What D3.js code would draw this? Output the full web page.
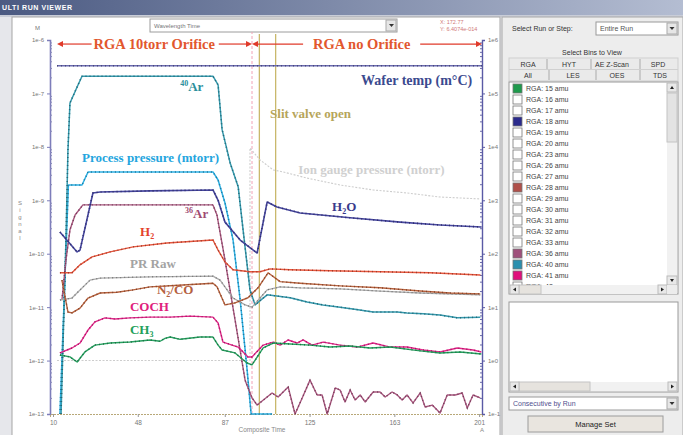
<!DOCTYPE html>
<html>
<head>
<meta charset="utf-8">
<script src="https://cdn.jsdelivr.net/npm/d3@7"></script>
<style>
body { margin:0; background:#e6e7eb; overflow:hidden; }
svg { display:block; }
</style>
</head>
<body>
<script>
// signals: [composite time, value]
var ar40 = [[13.6,1e-13],[15.8,1.8e-10],[16.7,8.7e-9],[17.6,6.6e-8],[21.2,1.44e-7],[23.0,2.1e-7],[81.7,2.1e-7],[84.0,1.44e-7],[85.8,2.1e-8],[89.4,5.0e-9],[93.0,1.8e-9],[95.2,2.8e-10],[98.3,2.1e-11],[100.6,1.1e-11],[103.5,1.4e-11],[106.0,1.7e-11],[116.3,1.5e-11],[123.9,1.25e-11],[131,1.1e-11],[138.7,1.0e-11],[146,9.0e-12],[153.5,8.1e-12],[164.3,8.1e-12],[168.7,7.8e-12],[176,7.5e-12],[183.5,7.1e-12],[191.2,6.3e-12],[201.5,6.5e-12]];
var ar36 = [[14.0,1.36e-11],[15.8,7.6e-11],[17.6,2.8e-10],[19.9,5.3e-10],[23.4,8.2e-10],[81.7,8.2e-10],[83.5,5.3e-10],[87.1,7.6e-11],[91.6,5.8e-12],[96.1,4.3e-13],[99.2,2.0e-13],[101.5,1.47e-13],[108.2,2.47e-13],[110.9,2.08e-13],[115.4,3.2e-13],[118.5,8e-14],[121.7,2.0e-13],[125.2,4.3e-13],[128.4,2.27e-13],[130.6,2.27e-13],[132.9,8e-14],[136.5,3.07e-13],[138.7,2.81e-13],[140.9,1.68e-13],[143.2,2.81e-13],[145.4,1.83e-13],[147.7,2.27e-13],[149.9,1.68e-13],[153.5,2.58e-13],[156.6,2.58e-13],[158.9,2.08e-13],[162.0,2.58e-13],[164.3,2.27e-13],[166.5,1.83e-13],[168.7,2.27e-13],[171.4,1.61e-13],[174.6,2.47e-13],[176.8,1.35e-13],[180.0,1.47e-13],[183.5,1.04e-13],[186.7,2.27e-13],[190.3,2.27e-13],[193.4,2.47e-13],[195.7,1.29e-13],[198.3,2.27e-13],[201.5,2.0e-13]];
var h2 = [[13.1,4.4e-11],[18.5,4.4e-11],[22.1,6.2e-11],[27.5,8.7e-11],[35.6,1.08e-10],[45.9,1.34e-10],[61.1,1.59e-10],[81.7,1.81e-10],[84.0,1.17e-10],[87.1,7.0e-11],[90.7,5.0e-11],[98.3,4.6e-11],[102.8,4.6e-11],[107.3,5.2e-11],[116.3,5.0e-11],[134.2,4.8e-11],[156.6,4.6e-11],[179,4.4e-11],[201.5,4.0e-11]];
var n2co = [[14.0,3.2e-11],[16.7,8.1e-12],[18.5,7.8e-12],[22.1,9.6e-12],[25.7,1.48e-11],[31.1,1.84e-11],[38.7,1.9e-11],[45.9,2.1e-11],[53.5,2.4e-11],[68.3,2.6e-11],[81.7,2.8e-11],[83.5,2.4e-11],[87.1,1.1e-11],[91.6,1.2e-11],[97.4,1.5e-11],[101.9,2.3e-11],[106.4,4.4e-11],[111.8,3.0e-11],[120.8,2.8e-11],[138.7,2.5e-11],[156.6,2.3e-11],[174.6,2.0e-11],[188,1.84e-11],[201.5,1.77e-11]];
var prRaw = [[13.1,1.36e-11],[18.5,1.48e-11],[22.1,2.1e-11],[26.6,3.2e-11],[31.1,3.5e-11],[53.5,3.7e-11],[81.7,3.8e-11],[84.9,3.2e-11],[90.7,1.48e-11],[96.1,1.1e-11],[99.2,1.0e-11],[102.8,1.48e-11],[106.0,2.1e-11],[111.8,2.4e-11],[120.8,2.3e-11],[138.7,2.2e-11],[156.6,2.0e-11],[174.6,1.84e-11],[201.5,1.7e-11]];
var h2o = [[13.1,2.55e-10],[20.8,1.08e-10],[22.1,1.17e-10],[27.9,1.37e-9],[31.1,1.43e-9],[53.5,1.5e-9],[81.7,1.56e-9],[84.0,1.0e-9],[87.1,3.9e-10],[93.9,1.8e-10],[101.5,1.03e-10],[106.0,9.3e-10],[110.4,7.5e-10],[120.8,5.8e-10],[143.2,4.7e-10],[165.6,3.9e-10],[183.5,3.45e-10],[202,3.16e-10]];
var coch = [[13.1,1.39e-12],[18.5,1.72e-12],[22.1,2.13e-12],[25.7,3.73e-12],[28.8,5.3e-12],[33.3,6.3e-12],[37.8,6.0e-12],[44.5,6.3e-12],[53.5,6.5e-12],[62.5,6.5e-12],[71.4,6.8e-12],[81.7,6.5e-12],[84.0,5.05e-12],[86.2,2.22e-12],[93.0,1.79e-12],[97.4,1.17e-12],[99.2,1.17e-12],[104.2,1.95e-12],[108.7,2.22e-12],[111.8,1.95e-12],[115.4,2.43e-12],[119.4,2.13e-12],[122.1,2.43e-12],[126.1,1.95e-12],[131.1,2.22e-12],[138.7,1.95e-12],[146.3,1.79e-12],[153.5,2.13e-12],[161.1,1.79e-12],[168.7,1.79e-12],[175.9,1.58e-12],[183.5,1.45e-12],[191.2,1.72e-12],[198.3,1.58e-12],[202,1.45e-12]];
var ch3 = [[13.1,1.27e-12],[17.6,1.17e-12],[20.8,9.4e-13],[24.3,1.45e-12],[28.8,1.95e-12],[35.6,2.13e-12],[44.5,2.22e-12],[53.5,2.43e-12],[58.0,2.3e-12],[60.2,2.6e-12],[62.5,2.76e-12],[67.0,2.5e-12],[75.9,2.76e-12],[81.7,2.76e-12],[84.0,1.95e-12],[85.8,1.58e-12],[91.6,1.39e-12],[97.0,9.0e-13],[99.2,8.3e-13],[104.2,1.72e-12],[108.7,2.13e-12],[116.3,2.04e-12],[125.2,1.95e-12],[134.2,1.79e-12],[143.2,1.87e-12],[152.1,1.72e-12],[161.1,1.79e-12],[174.6,1.52e-12],[183.5,1.39e-12],[192.5,1.45e-12],[202,1.33e-12]];
// right axis signals
var procPressure = [[13.1,0.1],[16.9,1.93e3],[23.0,1.93e3],[25.7,3.39e3],[81.7,3.39e3],[84.0,2.4e3],[87.1,890],[90.7,181],[93.9,13.6],[97.0,0.67],[98.8,0.1],[108.2,0.1]];
var waferTemp = [[11.8,3.3e5],[202.3,3.3e5]];
var ionGauge = [[11.8,1.0],[98.3,1.0],[98.3,9.5e3],[102.8,5.7e3],[108.7,3.7e3],[113.1,3.4e3],[123.9,2.6e3],[138.7,1.93e3],[153.5,1.56e3],[168.7,1.37e3],[183.5,1.15e3],[201.5,1.06e3]];

var orificeChange = 99.2;
var slitValve = [102.5, 109.8];
var leftExp = [-6,-7,-8,-9,-10,-11,-12,-13];
var rightExp = [6,5,4,3,2,1,0,-1];
var xTicks = [10,48,87,125,163,201];

// labels: [time, signal, text]
var labels = [
  [23.0, 5.2e-9, "Process pressure (mtorr)", "#24a5de"],
  [44.5, 5.4e-11, "PR Raw", "#a3a3a3"],
  [44.5, 8.5e-12, "COCH", "#e0207c"],
  [107.3, 3.47e-8, "Slit valve open", "#b6a55a"],
  [119.9, 3.1e-9, "Ion gauge pressure (ntorr)", "#d0d0d0"]
];

var binMasses = [15,16,17,18,19,20,23,26,27,28,29,30,31,32,33,36,40,41,42];
var binColors = {15:"#1e9a4c",18:"#2a2a8c",28:"#b0504a",36:"#a0507c",40:"#2b8fae",41:"#e0107c"};

var width = 683, height = 435;
var serif = "'Liberation Serif', 'DejaVu Serif', serif";
var sans = "'Liberation Sans', Arial, sans-serif";

var svg = d3.select("body").append("svg").attr("width", width).attr("height", height);

var defs = svg.append("defs");
var grad = defs.append("linearGradient").attr("id", "tb");
grad.append("stop").attr("offset", "0").attr("stop-color", "#4b5a82");
grad.append("stop").attr("offset", "1").attr("stop-color", "#b4bdd2");
defs.append("clipPath").attr("id", "plotclip").append("rect")
  .attr("x", 50).attr("y", 20).attr("width", 433).attr("height", 396);

// window chrome
svg.append("rect").attr("width", width).attr("height", 15).attr("fill", "url(#tb)");
svg.append("text").attr("x", 2).attr("y", 10).attr("fill", "#fff")
  .style("font", "bold 7px " + sans).style("letter-spacing", "0.6px").text("ULTI RUN VIEWER");
svg.append("rect").attr("y", 15).attr("width", width).attr("height", 2).attr("fill", "#c9cdd8");
svg.append("rect").attr("x", 12).attr("y", 17).attr("width", 488).attr("height", 420)
  .attr("fill", "#fff").attr("stroke", "#a6a6a6");
svg.append("rect").attr("x", 502).attr("y", 17).attr("width", 181).attr("height", 420)
  .attr("fill", "#ededed").attr("stroke", "#a8a8a8");

// scales
var x = d3.scaleLinear().domain([8.65, 202.3]).range([50, 482]);
var yL = d3.scaleLog().domain([1e-13, 1e-6]).range([414, 40]).clamp(true);
var yR = d3.scaleLog().domain([1e-1, 1e6]).range([414, 40]).clamp(true);

// top dropdown and readout
svg.append("rect").attr("x", 150).attr("y", 19).attr("width", 247).attr("height", 13)
  .attr("fill", "#fff").attr("stroke", "#9c9c9c");
svg.append("text").attr("x", 154).attr("y", 28).attr("fill", "#777")
  .style("font", "6px " + sans).text("Wavelength Time");
svg.append("rect").attr("x", 386).attr("y", 20).attr("width", 10).attr("height", 11)
  .attr("fill", "#e6e6e6").attr("stroke", "#aaa");
svg.append("path").attr("d", "M389 24 h5 l-2.5 3 z").attr("fill", "#333");
svg.append("text").attr("x", 440).attr("y", 24).attr("fill", "#d07878")
  .style("font", "5.5px " + sans).text("X: 172.77");
svg.append("text").attr("x", 440).attr("y", 31).attr("fill", "#d07878")
  .style("font", "5.5px " + sans).text("Y: 6.4074e-014");
svg.append("text").attr("x", 35).attr("y", 30).attr("fill", "#777")
  .style("font", "6px " + sans).text("M");
svg.append("text").attr("x", 20).attr("y", 205).attr("fill", "#888")
  .style("font", "6px " + sans).attr("text-anchor", "middle")
  .selectAll("tspan").data("Signal".split("")).enter().append("tspan")
  .attr("x", 20).attr("dy", function(d,i) { return i == 0 ? 0 : 7; }).text(function(d) { return d; });

// axes
function logMinor(lo, hi) {
  var v = [];
  for (var e = lo; e < hi; e++) for (var k = 2; k < 10; k++) v.push(k * Math.pow(10, e));
  return v;
}
var gl = svg.append("g").attr("transform", "translate(50,0)")
  .call(d3.axisLeft(yL).tickValues(leftExp.map(function(e) { return Math.pow(10, e); }))
    .tickSize(3).tickFormat(function(d) { return "1e" + Math.round(Math.log10(d)); }));
svg.append("g").attr("transform", "translate(50,0)")
  .call(d3.axisRight(yL).tickValues(logMinor(-13, -6)).tickSize(2).tickFormat(""))
  .call(function(g) { g.select(".domain").remove(); g.selectAll("line").attr("stroke", "#8888bb"); });
gl.select(".domain").attr("stroke", "#7d7dba").attr("stroke-width", 1.6);
gl.selectAll("line").attr("stroke", "#7d7dba");
gl.selectAll("text").attr("fill", "#777").style("font", "6px " + sans);

var gr = svg.append("g").attr("transform", "translate(482,0)")
  .call(d3.axisRight(yR).tickValues(rightExp.map(function(e) { return Math.pow(10, e); }))
    .tickSize(3).tickFormat(function(d) { return "1e" + Math.round(Math.log10(d)); }));
svg.append("g").attr("transform", "translate(482,0)")
  .call(d3.axisLeft(yR).tickValues(logMinor(-1, 6)).tickSize(2).tickFormat(""))
  .call(function(g) { g.select(".domain").remove(); g.selectAll("line").attr("stroke", "#6a6aa8"); });
gr.select(".domain").attr("stroke", "#5a5aa5").attr("stroke-width", 1.4);
gr.selectAll("line").attr("stroke", "#5a5aa5");
gr.selectAll("text").attr("fill", "#777").style("font", "6px " + sans);

var gb = svg.append("g").attr("transform", "translate(0,414)")
  .call(d3.axisBottom(x).tickValues(xTicks).tickSize(3).tickFormat(d3.format("d")));
gb.select(".domain").attr("stroke", "#b8a878").attr("stroke-dasharray", "2,1");
gb.selectAll("line").attr("stroke", "#999");
gb.selectAll("text").attr("fill", "#777").style("font", "6.5px " + sans);
svg.append("text").attr("x", 262).attr("y", 432).attr("text-anchor", "middle").attr("fill", "#888")
  .style("font", "6.5px " + sans).text("Composite Time");
svg.append("text").attr("x", 480).attr("y", 432).attr("fill", "#888")
  .style("font", "6px " + sans).text("A");

var plot = svg.append("g").attr("clip-path", "url(#plotclip)");

// event markers
plot.append("line").attr("x1", x(orificeChange)).attr("x2", x(orificeChange))
  .attr("y1", yL.range()[0]).attr("y2", yL.range()[1] - 8)
  .attr("stroke", "#f2a2b6").attr("stroke-width", 1).attr("stroke-dasharray", "3,2");
plot.selectAll(".valve").data(slitValve).enter().append("line")
  .attr("x1", function(d) { return x(d); }).attr("x2", function(d) { return x(d); })
  .attr("y1", yL.range()[0]).attr("y2", yL.range()[1] - 6)
  .attr("stroke", "#c9b86c").attr("stroke-width", 1.3);

function drawSeries(data, scale, color, w, dots) {
  var line = d3.line().x(function(d) { return x(d[0]); }).y(function(d) { return scale(d[1]); });
  var p = plot.append("path").datum(data).attr("d", line).attr("fill", "none")
    .attr("stroke", color).attr("stroke-width", w).attr("stroke-linejoin", "round");
  if (dots) {
    plot.append("path").datum(data).attr("d", line).attr("fill", "none")
      .attr("stroke", d3.color(color).darker(1.1)).attr("stroke-width", w)
      .attr("stroke-dasharray", "1,3");
  }
  return p;
}

drawSeries(ionGauge, yR, "#cdcdcd", 1.1, false).attr("stroke-dasharray", "2,1.5");
drawSeries(waferTemp, yR, "#6a6ab0", 1.6, true);
drawSeries(procPressure, yR, "#2cb0e4", 1.5, true);
drawSeries(ar40, yL, "#3499ad", 1.5, true);
drawSeries(ar36, yL, "#a8567e", 1.4, true);
drawSeries(h2, yL, "#e6553c", 1.4, true);
drawSeries(prRaw, yL, "#ababab", 1.3, true);
drawSeries(n2co, yL, "#b8623e", 1.4, true);
drawSeries(h2o, yL, "#45459e", 1.6, true);
drawSeries(coch, yL, "#e4268a", 1.4, true);
drawSeries(ch3, yL, "#27a060", 1.4, true);

// region arrows
var arrowY = yL(8.4e-7);
function arrow(t0, t1, gap0, gap1) {
  var c = "#e03a2a";
  svg.append("line").attr("x1", x(t0) + 4).attr("x2", x(gap0)).attr("y1", arrowY).attr("y2", arrowY)
    .attr("stroke", c).attr("stroke-width", 1.2);
  svg.append("line").attr("x1", x(gap1)).attr("x2", x(t1) - 4).attr("y1", arrowY).attr("y2", arrowY)
    .attr("stroke", c).attr("stroke-width", 1.2);
  svg.append("path").attr("d", "M" + x(t0) + " " + arrowY + " l6 -3 v6 z").attr("fill", c);
  svg.append("path").attr("d", "M" + x(t1) + " " + arrowY + " l-6 -3 v6 z").attr("fill", c);
}
arrow(11.8, orificeChange, 27.3, 84.3);
arrow(orificeChange, 202.3, 122.1, 174.6);
svg.append("text").attr("x", x(55.4)).attr("y", yL(6.8e-7)).attr("text-anchor", "middle")
  .attr("fill", "#e2572e").style("font", "bold 14.5px " + serif).text("RGA 10torr Orifice");
svg.append("text").attr("x", x(148.4)).attr("y", yL(6.8e-7)).attr("text-anchor", "middle")
  .attr("fill", "#e2572e").style("font", "bold 14.5px " + serif).text("RGA no Orifice");
svg.append("text").attr("x", x(197.9)).attr("y", yL(1.44e-7)).attr("text-anchor", "end")
  .attr("fill", "#3b4a8f").style("font", "bold 14px " + serif).text("Wafer temp (m\u00B0C)");

// plain labels
svg.selectAll(".lbl").data(labels).enter().append("text")
  .attr("x", function(d) { return x(d[0]); }).attr("y", function(d) { return yL(d[1]); })
  .attr("fill", function(d) { return d[3]; })
  .style("font", "bold 13px " + serif).text(function(d) { return d[2]; });

// labels with super/subscripts
function chem(t, v, color, parts) {
  var tx = svg.append("text").attr("x", x(t)).attr("y", yL(v)).attr("fill", color)
    .style("font", "bold 13px " + serif);
  parts.forEach(function(p) {
    var s = tx.append("tspan").text(p[0]);
    if (p[1] == "sup") s.attr("dy", -5).style("font-size", "8px");
    else if (p[1] == "sub") s.attr("dy", 3).style("font-size", "8px");
    else if (p[1] == "back") s.attr("dy", p[2]);
  });
}
chem(67.0, 1.11e-7, "#2c8f9c", [["40","sup"],["Ar","back",5]]);
chem(69.2, 4.67e-10, "#a04a72", [["36","sup"],["Ar","back",5]]);
chem(49.0, 2.15e-10, "#e4432d", [["H"],["2","sub"]]);
chem(56.6, 1.76e-11, "#b4603e", [["N"],["2","sub"],["/CO","back",-3]]);
chem(44.5, 3.14e-12, "#23a05a", [["CH"],["3","sub"]]);
chem(135.1, 6.3e-10, "#3a3a8c", [["H"],["2","sub"],["O","back",-3]]);

// right-hand panel
var ui = svg.append("g").style("font", "7px " + sans).attr("fill", "#333");
ui.append("text").attr("x", 512).attr("y", 31).text("Select Run or Step:");
ui.append("rect").attr("x", 596).attr("y", 22).attr("width", 82).attr("height", 13)
  .attr("fill", "#fff").attr("stroke", "#9a9a9a");
ui.append("text").attr("x", 600).attr("y", 31).attr("fill", "#555").text("Entire Run");
ui.append("rect").attr("x", 667).attr("y", 23).attr("width", 10).attr("height", 11)
  .attr("fill", "#e6e6e6").attr("stroke", "#aaa");
ui.append("path").attr("d", "M669.5 27 h5 l-2.5 3 z").attr("fill", "#333");
ui.append("text").attr("x", 592).attr("y", 55).attr("text-anchor", "middle").text("Select Bins to View");

var tabs1 = [["RGA",528],["HYT",569],["AE Z-Scan",612],["SPD",658]];
var tabs2 = [["All",528],["LES",573],["OES",617],["TDS",660]];
ui.append("rect").attr("x", 509).attr("y", 58).attr("width", 169).attr("height", 23)
  .attr("fill", "#eaeaea").attr("stroke", "#cfcfcf");
ui.selectAll(".t1").data(tabs1).enter().append("text")
  .attr("x", function(d) { return d[1]; }).attr("y", 67).attr("text-anchor", "middle").text(function(d) { return d[0]; });
ui.selectAll(".t2").data(tabs2).enter().append("text")
  .attr("x", function(d) { return d[1]; }).attr("y", 78).attr("text-anchor", "middle").text(function(d) { return d[0]; });
[547, 591, 640].forEach(function(sx) {
  ui.append("line").attr("x1", sx).attr("x2", sx).attr("y1", 59).attr("y2", 69).attr("stroke", "#aaa");
});
[549, 596, 640].forEach(function(sx) {
  ui.append("line").attr("x1", sx).attr("x2", sx).attr("y1", 70).attr("y2", 80).attr("stroke", "#aaa");
});
ui.append("line").attr("x1", 509).attr("x2", 678).attr("y1", 69.5).attr("y2", 69.5).attr("stroke", "#d0d0d0");

// bin list
ui.append("rect").attr("x", 509).attr("y", 82).attr("width", 169).attr("height", 212)
  .attr("fill", "#fff").attr("stroke", "#9a9a9a");
defs.append("clipPath").attr("id", "listclip").append("rect")
  .attr("x", 509).attr("y", 83).attr("width", 158).attr("height", 202);
var list = ui.append("g").attr("clip-path", "url(#listclip)");
var item = list.selectAll(".bin").data(binMasses).enter().append("g")
  .attr("transform", function(d,i) { return "translate(0," + (88.5 + i * 11) + ")"; });
item.append("rect").attr("x", 513).attr("y", -4.5).attr("width", 9).attr("height", 9)
  .attr("fill", function(d) { return binColors[d] || "#fff"; }).attr("stroke", "#777").attr("stroke-width", 0.8);
item.append("text").attr("x", 526).attr("y", 2.5).attr("fill", "#444")
  .text(function(d) { return "RGA: " + d + " amu"; });

// scrollbars
function scrollV(sx, y0, y1, t0, t1) {
  ui.append("rect").attr("x", sx).attr("y", y0).attr("width", 10).attr("height", y1 - y0).attr("fill", "#f1f1f1");
  ui.append("rect").attr("x", sx).attr("y", t0).attr("width", 10).attr("height", t1 - t0)
    .attr("fill", "#e3e3e3").attr("stroke", "#c4c4c4");
  ui.append("rect").attr("x", sx).attr("y", y0).attr("width", 10).attr("height", 9).attr("fill", "#e8e8e8").attr("stroke", "#bbb");
  ui.append("rect").attr("x", sx).attr("y", y1 - 9).attr("width", 10).attr("height", 9).attr("fill", "#e8e8e8").attr("stroke", "#bbb");
  ui.append("path").attr("d", "M" + (sx + 3) + " " + (y0 + 6) + " h4 l-2 -3 z").attr("fill", "#222");
  ui.append("path").attr("d", "M" + (sx + 3) + " " + (y1 - 6) + " h4 l-2 3 z").attr("fill", "#222");
}
function scrollH(x0, x1, sy, t0, t1) {
  ui.append("rect").attr("x", x0).attr("y", sy).attr("width", x1 - x0).attr("height", 9).attr("fill", "#f1f1f1");
  ui.append("rect").attr("x", t0).attr("y", sy).attr("width", t1 - t0).attr("height", 9)
    .attr("fill", "#e6e3de").attr("stroke", "#c4c4c4");
  ui.append("rect").attr("x", x0).attr("y", sy).attr("width", 9).attr("height", 9).attr("fill", "#e8e8e8").attr("stroke", "#bbb");
  ui.append("rect").attr("x", x1 - 9).attr("y", sy).attr("width", 9).attr("height", 9).attr("fill", "#e8e8e8").attr("stroke", "#bbb");
  ui.append("path").attr("d", "M" + (x0 + 6) + " " + (sy + 2.5) + " v4 l-3 -2 z").attr("fill", "#222");
  ui.append("path").attr("d", "M" + (x1 - 6) + " " + (sy + 2.5) + " v4 l3 -2 z").attr("fill", "#222");
}
scrollV(667, 83, 285, 93, 142);
scrollH(510, 667, 285, 519, 541);
ui.append("rect").attr("x", 667).attr("y", 285).attr("width", 10).attr("height", 9).attr("fill", "#ececec");

// second box
ui.append("rect").attr("x", 509).attr("y", 302).attr("width", 169).attr("height", 90)
  .attr("fill", "#fff").attr("stroke", "#9a9a9a");
scrollH(510, 677, 382, 519, 590);

// bottom controls
ui.append("rect").attr("x", 509).attr("y", 397).attr("width", 169).attr("height", 13)
  .attr("fill", "#fff").attr("stroke", "#9a9a9a");
ui.append("text").attr("x", 513).attr("y", 406).attr("fill", "#50508e").text("Consecutive by Run");
ui.append("rect").attr("x", 667).attr("y", 398).attr("width", 10).attr("height", 11)
  .attr("fill", "#e6e6e6").attr("stroke", "#aaa");
ui.append("path").attr("d", "M669.5 402 h5 l-2.5 3 z").attr("fill", "#333");
ui.append("rect").attr("x", 528).attr("y", 416).attr("width", 135).attr("height", 16)
  .attr("fill", "#e9e5df").attr("stroke", "#9c9c9c");
ui.append("text").attr("x", 595.5).attr("y", 427).attr("text-anchor", "middle").attr("fill", "#222")
  .style("font-size", "7.5px").text("Manage Set");
</script>
</body>
</html>
